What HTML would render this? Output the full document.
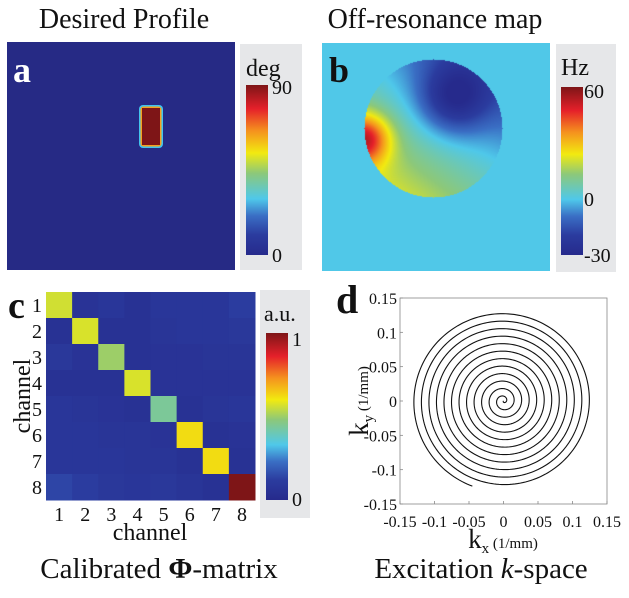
<!DOCTYPE html>
<html><head><meta charset="utf-8"><style>
body{margin:0;background:#fff;width:629px;height:593px;overflow:hidden}
svg, svg text{font-family:"Liberation Serif","DejaVu Serif",serif}
svg text{fill:#111}
</style></head><body>
<svg width="629" height="593" viewBox="0 0 629 593" font-family="Liberation Serif, DejaVu Serif, serif">
<defs>
<linearGradient id="jet" x1="0" y1="1" x2="0" y2="0">
<stop offset="0" stop-color="#262a8c"/><stop offset="0.12" stop-color="#2b3c9f"/><stop offset="0.23" stop-color="#3a6ec4"/><stop offset="0.33" stop-color="#4fc8ea"/><stop offset="0.48" stop-color="#8cc87a"/><stop offset="0.6" stop-color="#f2ea10"/><stop offset="0.73" stop-color="#f5921e"/><stop offset="0.86" stop-color="#e5202a"/><stop offset="1" stop-color="#7e1517"/>
</linearGradient>
</defs>
<text x="124" y="28" font-size="28" text-anchor="middle" font-family="Liberation Serif, serif">Desired Profile</text>
<text x="435" y="28" font-size="28" text-anchor="middle" font-family="Liberation Serif, serif">Off-resonance map</text>
<text x="159" y="578" font-size="29" text-anchor="middle" font-family="Liberation Serif, serif">Calibrated <tspan font-weight="bold">Φ</tspan>-matrix</text>
<text x="481" y="578" font-size="29" text-anchor="middle" font-family="Liberation Serif, serif">Excitation <tspan font-style="italic">k</tspan>-space</text>

<g>
<rect x="7" y="42" width="228" height="228" fill="#262a85"/>
<rect x="139" y="105" width="24" height="43" rx="4" fill="#41c4ee"/>
<rect x="140.5" y="106.5" width="21" height="40" rx="3" fill="#f5a01e"/>
<rect x="142" y="108" width="18" height="37" fill="#7e1517"/>
<text x="13" y="82" font-size="36" font-weight="bold" style="fill:#fff">a</text>
<rect x="240" y="44" width="62" height="226" fill="#e6e7e9"/>
<rect x="246" y="85" width="22" height="170" fill="url(#jet)"/>
<text x="246" y="76" font-size="24">deg</text>
<text x="272" y="94" font-size="20">90</text>
<text x="272" y="262" font-size="20">0</text>
</g>

<g>
<rect x="322" y="43" width="228" height="228" fill="#4fc8ea"/>
<foreignObject x="322" y="43" width="228" height="228"><canvas id="offres" width="228" height="228" xmlns="http://www.w3.org/1999/xhtml"></canvas></foreignObject>
<text x="329" y="82" font-size="36" font-weight="bold">b</text>
<rect x="556" y="44" width="60" height="228" fill="#e6e7e9"/>
<rect x="561" y="87" width="22" height="168" fill="url(#jet)"/>
<text x="561" y="75" font-size="24">Hz</text>
<text x="584" y="98" font-size="20">60</text>
<text x="584" y="206" font-size="20">0</text>
<text x="584" y="262" font-size="20">-30</text>
</g>

<g id="pc">
<text x="8" y="318" font-size="38" font-weight="bold">c</text>
<text transform="translate(30,396) rotate(-90)" font-size="24" text-anchor="middle">channel</text>
<text x="150" y="540" font-size="24" text-anchor="middle">channel</text>
<rect x="260" y="290" width="50" height="228" fill="#e6e7e9"/>
<rect x="266" y="333" width="22" height="167" fill="url(#jet)"/>
<text x="264" y="321" font-size="22">a.u.</text>
<text x="292" y="346" font-size="20">1</text>
<text x="292" y="506" font-size="20">0</text>
</g>

<g id="pd">
<text x="336" y="313" font-size="40" font-weight="bold">d</text>
<rect x="400" y="298" width="207" height="206" fill="#fff" stroke="#888" stroke-width="0.8"/>
<text transform="translate(368,401) rotate(-90)" font-size="27" text-anchor="middle">k<tspan font-size="15" dy="5">y</tspan><tspan font-size="15" dy="-5"> (1/mm)</tspan></text>
<text x="503" y="548" font-size="27" text-anchor="middle">k<tspan font-size="15" dy="5">x</tspan><tspan font-size="15" dy="-5"> (1/mm)</tspan></text>
</g>
</svg>
<script>
const channels=[1,2,3,4,5,6,7,8];
const phiRows=[
[0.56,0.06,0.08,0.05,0.08,0.08,0.08,0.12],
[0.05,0.57,0.05,0.05,0.07,0.08,0.08,0.09],
[0.09,0.06,0.50,0.05,0.06,0.06,0.07,0.07],
[0.05,0.05,0.05,0.57,0.06,0.06,0.06,0.06],
[0.08,0.07,0.06,0.05,0.44,0.05,0.07,0.08],
[0.08,0.08,0.07,0.07,0.06,0.62,0.05,0.06],
[0.08,0.08,0.08,0.07,0.07,0.05,0.62,0.05],
[0.14,0.12,0.09,0.08,0.09,0.07,0.05,1.00]];
const kTicks=[-0.15,-0.1,-0.05,0,0.05,0.1,0.15];
const kTickLabels=["-0.15","-0.1","-0.05","0","0.05","0.1","0.15"];
const spiralTurns=[12.1];
const spiralMaxRadius=[0.132];
const spiralEndAngleDeg=[250];

const stops=[[0,[38,42,140]],[0.12,[43,60,159]],[0.23,[58,110,196]],[0.33,[79,200,234]],[0.48,[140,200,122]],[0.6,[242,234,16]],[0.73,[245,146,30]],[0.86,[229,32,42]],[1,[126,21,23]]];
function jet(t){t=Math.max(0,Math.min(1,t));for(let i=1;i<stops.length;i++){if(t<=stops[i][0]){const a=stops[i-1],b=stops[i],f=(t-a[0])/(b[0]-a[0]);return a[1].map((v,k)=>Math.round(v+(b[1][k]-v)*f));}}return stops[stops.length-1][1];}
const NS='http://www.w3.org/2000/svg';
function mk(tag,attrs,parent){const e=document.createElementNS(NS,tag);for(const k in attrs)e.setAttribute(k,attrs[k]);parent.appendChild(e);return e;}

const pc=document.getElementById('pc');
const cx0=46,cy0=292,cw=209/8,ch=208/8;
const xC=i=>cx0+i*cw, yC=i=>cy0+i*ch;
phiRows.forEach((row,r)=>row.forEach((v,c)=>{
 const col=jet(v);
 const e=mk('rect',{x:xC(c),y:yC(r),width:cw+0.5,height:ch+0.5,fill:`rgb(${col})`},pc);
 
 
}));
channels.forEach((ch_,i)=>{
 const t=mk('text',{x:xC(i)+cw/2,y:521,'font-size':20,'text-anchor':'middle'},pc);t.textContent=ch_;
 
 
 const u=mk('text',{x:42,y:yC(i)+ch/2+7,'font-size':20,'text-anchor':'end'},pc);u.textContent=ch_;
 
 
});

const pd=document.getElementById('pd');
const X0=400,X1=607,Y0=504,Y1=298;
const sx=v=>X0+(v+0.15)/0.3*(X1-X0), sy=v=>Y0-(v+0.15)/0.3*(Y0-Y1);
kTicks.forEach((v,i)=>{
 mk('line',{x1:sx(v),x2:sx(v),y1:Y0,y2:Y0-3,stroke:'#888','stroke-width':0.8},pd);
 mk('line',{x1:X0,x2:X0+3,y1:sy(v),y2:sy(v),stroke:'#888','stroke-width':0.8},pd);
 const t=mk('text',{x:sx(v),y:Y0+23,'font-size':16,'text-anchor':'middle'},pd);t.textContent=kTickLabels[i];
 
 
 const u=mk('text',{x:X0-3,y:sy(v)+6,'font-size':16,'text-anchor':'end'},pd);u.textContent=kTickLabels[i];
 
 
});
{
 const N=2400,th=spiralTurns[0]*2*Math.PI,end=spiralEndAngleDeg[0]*Math.PI/180;
 let d='';
 for(let i=0;i<=N;i++){const f=i/N,r=spiralMaxRadius[0]*f,a=end-th*(1-f);
  d+=(i?'L':'M')+sx(r*Math.cos(a)).toFixed(2)+' '+sy(r*Math.sin(a)).toFixed(2);}
 const p=mk('path',{d:d,fill:'none',stroke:'#111','stroke-width':1.1},pd);
 
 
}

const cv=document.getElementById('offres'),ctx=cv.getContext('2d');
const img=ctx.createImageData(228,228);
const ccx=433-322,ccy=128-43,R=69;
for(let y=0;y<228;y++)for(let x=0;x<228;x++){
 const u=(x-ccx)/R,v=(y-ccy)/R;let hz=0;
 if(u*u+v*v<=1){const g=0.8*v-0.6*u;
  hz=3+17*g-25*Math.exp(-((u-0.3)**2+(v+0.45)**2)/0.25)+38*Math.exp(-((u+1)**2+(v-0.15)**2)/0.13);}
 const c=jet((hz+30)/90),k=(y*228+x)*4;img.data[k]=c[0];img.data[k+1]=c[1];img.data[k+2]=c[2];img.data[k+3]=255;}
ctx.putImageData(img,0,0);
</script>
</body></html>
